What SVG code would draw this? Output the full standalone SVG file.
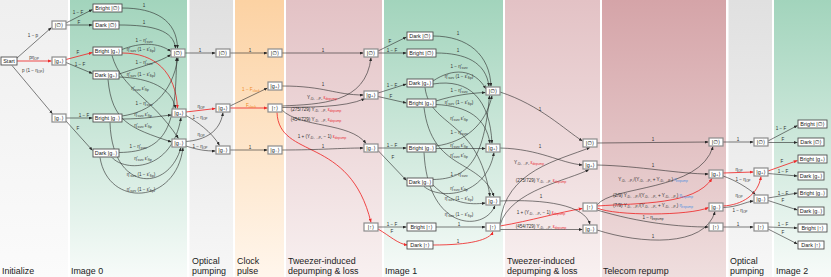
<svg xmlns="http://www.w3.org/2000/svg" width="831" height="277" viewBox="0 0 831 277">
<defs>
<linearGradient id="gInit" x1="0" y1="0" x2="0" y2="1"><stop offset="0" stop-color="#efefef"/><stop offset="1" stop-color="#fbfbfb"/></linearGradient>
<linearGradient id="gGreen" x1="0" y1="0" x2="0" y2="1"><stop offset="0" stop-color="#a2d4bc"/><stop offset="1" stop-color="#f7fbf9"/></linearGradient>
<linearGradient id="gGray" x1="0" y1="0" x2="0" y2="1"><stop offset="0" stop-color="#e0e0e0"/><stop offset="1" stop-color="#f7f7f7"/></linearGradient>
<linearGradient id="gOrange" x1="0" y1="0" x2="0" y2="1"><stop offset="0" stop-color="#fcd2a3"/><stop offset="1" stop-color="#fff6ec"/></linearGradient>
<linearGradient id="gPink" x1="0" y1="0" x2="0" y2="1"><stop offset="0" stop-color="#e3c2c5"/><stop offset="1" stop-color="#f8f0f0"/></linearGradient>
<linearGradient id="gTel" x1="0" y1="0" x2="0" y2="1"><stop offset="0" stop-color="#d5a4a8"/><stop offset="1" stop-color="#efdede"/></linearGradient>
<marker id="ak" viewBox="0 0 10 10" refX="10" refY="5" markerUnits="userSpaceOnUse" markerWidth="3.6" markerHeight="3" orient="auto" preserveAspectRatio="none"><path d="M0,0L10,5L0,10z" fill="#2a2a2a"/></marker>
<marker id="ar" viewBox="0 0 10 10" refX="10" refY="5" markerUnits="userSpaceOnUse" markerWidth="3.8" markerHeight="3.2" orient="auto" preserveAspectRatio="none"><path d="M0,0L10,5L0,10z" fill="#ee2b2b"/></marker>
<style>
.bx{fill:#fff;stroke:#8c8c8c;stroke-width:1.2}
.rb{fill:#fff;stroke:#505050;stroke-width:0.9}
.nt{font-family:"Liberation Sans","DejaVu Sans",sans-serif;font-size:5.5px;fill:#222;text-anchor:middle}
.c{fill:none;stroke:#2a2a2a;stroke-width:0.6;marker-end:url(#ak)}
.cr{fill:none;stroke:#ee2b2b;stroke-width:0.85;marker-end:url(#ar)}
.el{font-family:"Liberation Sans","DejaVu Sans",sans-serif;font-size:4.6px;fill:#333;text-anchor:middle}
.s{font-size:3.2px}
.rd{fill:#e8303a}
.bl{fill:#4a8fe0}
.og{fill:#f08a24}
.sl{font-family:"Liberation Sans","DejaVu Sans",sans-serif;font-size:8.9px;fill:#222}
</style>
</defs>

<g id="bands">
<rect x="0" y="0" width="831" height="277" fill="#fff"/>
<rect x="0" y="0" width="68" height="277" fill="url(#gInit)"/>
<rect x="70" y="0" width="117" height="277" fill="url(#gGreen)"/>
<rect x="189.5" y="0" width="43.5" height="277" fill="url(#gGray)"/>
<rect x="235" y="0" width="49" height="277" fill="url(#gOrange)"/>
<rect x="286" y="0" width="96" height="277" fill="url(#gPink)"/>
<rect x="384" y="0" width="119" height="277" fill="url(#gGreen)"/>
<rect x="505" y="0" width="95" height="277" fill="url(#gPink)"/>
<rect x="602" y="0" width="124" height="277" fill="url(#gTel)"/>
<rect x="728.5" y="0" width="43.5" height="277" fill="url(#gGray)"/>
<rect x="774" y="0" width="57" height="277" fill="url(#gGreen)"/>
</g>

<g id="stage-labels" class="sl">
<text x="2" y="273.8">Initialize</text>
<text x="71" y="273.8">Image 0</text>
<text x="192" y="263.7">Optical</text><text x="192" y="273.8">pumping</text>
<text x="237" y="263.7">Clock</text><text x="237" y="273.8">pulse</text>
<text x="288" y="263.7">Tweezer-induced</text><text x="288" y="273.8">depumping &amp; loss</text>
<text x="385" y="273.8">Image 1</text>
<text x="507" y="263.7">Tweezer-induced</text><text x="507" y="273.8">depumping &amp; loss</text>
<text x="603" y="273.8">Telecom repump</text>
<text x="730" y="263.7">Optical</text><text x="730" y="273.8">pumping</text>
<text x="776" y="273.8">Image 2</text>
</g>

<g id="connectors">
<path class="c" d="M17,58 L51.5,27.5"/>
<path class="cr" d="M17,61 L51.5,61"/>
<path class="c" d="M12,65.5 L52.5,113.8"/>
<path class="c" d="M66,23 L92.5,9.5"/>
<path class="c" d="M66,25 L92.5,25"/>
<path class="cr" d="M66,59.5 L92.5,52.5"/>
<path class="c" d="M66,62.5 L92.5,73.5"/>
<path class="c" d="M66,118 L92.5,118"/>
<path class="c" d="M66,121 L92.5,150.5"/>
<path class="c" d="M122,8 C155,8 177,20 177.5,48.5"/>
<path class="c" d="M119,25 C152,25 174,30 175.5,48.5"/>
<path class="c" d="M122,49.5 C140,42.5 158,42 171,51.5"/>
<path class="cr" d="M122,53 C155,53 176,72 177.5,108.5"/>
<path class="c" d="M112,55.5 C122,90 150,95 178.5,138.5"/>
<path class="c" d="M119,74 C140,67 160,62 171,54.5"/>
<path class="c" d="M119,77 C150,78 172,88 175.5,108.5"/>
<path class="c" d="M108,79.5 C112,122 130,128 171.5,142"/>
<path class="c" d="M122,116 C150,112 172,95 178,57.5"/>
<path class="c" d="M122,119 C145,119 160,116 171.5,115"/>
<path class="c" d="M110,122.5 C112,192 168,193 181,147.5"/>
<path class="c" d="M119,152.5 C168,152 176,125 176.5,57.5"/>
<path class="c" d="M112,157.5 C125,172 172,172 181,117.5"/>
<path class="c" d="M100,157.5 C108,208 176,205 183,147.5"/>
<path class="c" d="M185,53 L215.5,53"/>
<path class="cr" d="M186,112 L215.5,108.5"/>
<path class="c" d="M186,115.5 C196,121 212,132 219.5,145.5"/>
<path class="c" d="M186,141.5 C205,140 220,132 223,112.5"/>
<path class="c" d="M186,146 C198,150 206,151 215.5,151"/>
<path class="c" d="M230,53 L267.5,53"/>
<path class="c" d="M230,106 L267.5,88"/>
<path class="cr" d="M230,108 L267.5,108"/>
<path class="c" d="M230,150 L267.5,150"/>
<path class="c" d="M282,53 L363.5,53"/>
<path class="c" d="M282,86 C325,86 335,95 363.5,95"/>
<path class="c" d="M282,106 C320,104 366,104 371,57.5"/>
<path class="c" d="M282,107.5 C305,107 345,108 365,98.5"/>
<path class="c" d="M282,110 C300,128 350,122 366,143.5"/>
<path class="cr" d="M277,112.5 C279,160 350,135 371,222.5"/>
<path class="c" d="M282,150 C320,150 340,148 363.5,148"/>
<path class="c" d="M378,51 L406.5,37"/>
<path class="c" d="M378,53 L406.5,53"/>
<path class="c" d="M378,93 L406.5,84"/>
<path class="c" d="M378,96.5 L406.5,103"/>
<path class="c" d="M378,148 L406.5,148"/>
<path class="c" d="M378,150.5 L406.5,180.5"/>
<path class="c" d="M378,227 L406.5,227"/>
<path class="cr" d="M378,229 C390,236 398,244 407.5,245"/>
<path class="c" d="M433,36 C468,36 490,55 491,86.5"/>
<path class="c" d="M436,53 C465,53 486,62 489,86.5"/>
<path class="c" d="M433,81 C452,68 474,68 486,89"/>
<path class="c" d="M433,84 C470,78 490,100 492,143.5"/>
<path class="c" d="M425,87.5 C430,128 478,118 490,196.5"/>
<path class="c" d="M436,101 C455,95 472,93 485.5,92.5"/>
<path class="c" d="M436,104.5 C468,106 486,118 490,143.5"/>
<path class="c" d="M424,107.5 C432,172 480,158 494,196.5"/>
<path class="c" d="M436,146 C465,142 486,125 492,95.5"/>
<path class="c" d="M436,148.5 L485.5,148.5"/>
<path class="c" d="M424,152.5 C428,232 485,232 495,205.5"/>
<path class="c" d="M433,179.5 C468,179 484,160 489.5,95.5"/>
<path class="c" d="M424,186.5 C440,200 486,197 494,152.5"/>
<path class="c" d="M433,185 C452,204 470,205 485.5,203"/>
<path class="c" d="M436,227 L485.5,227"/>
<path class="cr" d="M433,245 C470,245 490,240 493,231.5"/>
<path class="c" d="M500,92 C540,105 565,130 582.5,141"/>
<path class="c" d="M500,148 C540,149 560,163 582.5,165"/>
<path class="c" d="M500,223.5 C505,170 560,160 590,147.5"/>
<path class="c" d="M500,225 C510,190 570,180 589,169.5"/>
<path class="cr" d="M500,226 C530,221 560,212 582.5,208.5"/>
<path class="c" d="M500,229.5 L582.5,229.5"/>
<path class="c" d="M500,201 C545,199 585,205 590,224.5"/>
<path class="c" d="M597,143 L708.5,142"/>
<path class="c" d="M597,165 C640,166 680,174 708.5,174"/>
<path class="c" d="M597,205 C612,185 700,192 713,146.5"/>
<path class="cr" d="M597,206 C640,203 695,205 712,178.5"/>
<path class="cr" d="M597,208 C615,216 690,216 708.5,207.5"/>
<path class="c" d="M597,210 C640,223 680,227 708.5,227"/>
<path class="c" d="M597,230 C640,244 705,248 715,211.5"/>
<path class="c" d="M723,142 L753.5,142"/>
<path class="cr" d="M723,173 L753.5,172"/>
<path class="c" d="M723,176 C735,180 748,188 755.5,194.5"/>
<path class="cr" d="M723,206 C742,205 758,195 761,176.5"/>
<path class="c" d="M723,207.5 C738,207 745,202 753.5,201"/>
<path class="c" d="M723,227 L753.5,227"/>
<path class="c" d="M768,141 L797.5,125.5"/>
<path class="c" d="M768,142.5 L797.5,142.5"/>
<path class="cr" d="M768,171 L797.5,160.5"/>
<path class="c" d="M768,173.5 L797.5,176"/>
<path class="c" d="M768,198 L797.5,193"/>
<path class="c" d="M768,200.5 L797.5,210"/>
<path class="c" d="M768,227 L797.5,228"/>
<path class="c" d="M768,229 L797.5,244"/>
</g>

<g id="connector-labels" class="el">
<text x="33" y="37">1 − p</text>
<text x="34" y="58.5">pη<tspan class="s" dy="1">OP</tspan></text>
<text x="33" y="72">p (1 − η<tspan class="s" dy="1">OP</tspan><tspan dy="-1">)</tspan></text>
<text x="78" y="14">1 − F</text>
<text x="79" y="23.5">F</text>
<text x="78" y="53.5">F</text>
<text x="80" y="65.5">1 − F</text>
<text x="84" y="116.5">1 − F</text>
<text x="78" y="130">F</text>
<text x="144" y="6.5">1</text>
<text x="144" y="23.5">1</text>
<text x="144" y="41.5">1 − η′<tspan class="s" dy="1">surv</tspan></text>
<text x="141" y="51">η′<tspan class="s" dy="1">surv</tspan><tspan dy="-1"> (1 − ε′</tspan><tspan class="s" dy="1">flip</tspan><tspan dy="-1">)</tspan></text>
<text x="140" y="90">η′<tspan class="s" dy="1">surv</tspan><tspan dy="-1"> ε′</tspan><tspan class="s" dy="1">flip</tspan></text>
<text x="144" y="63.5">1 − η′<tspan class="s" dy="1">surv</tspan></text>
<text x="141" y="75.5">η′<tspan class="s" dy="1">surv</tspan><tspan dy="-1"> (1 − ε′</tspan><tspan class="s" dy="1">flip</tspan><tspan dy="-1">)</tspan></text>
<text x="143" y="126.5">η′<tspan class="s" dy="1">surv</tspan><tspan dy="-1"> ε′</tspan><tspan class="s" dy="1">flip</tspan></text>
<text x="144" y="105">1 − η′<tspan class="s" dy="1">surv</tspan></text>
<text x="143" y="116">η′<tspan class="s" dy="1">surv</tspan><tspan dy="-1"> ε′</tspan><tspan class="s" dy="1">flip</tspan></text>
<text x="141" y="175.5">η′<tspan class="s" dy="1">surv</tspan><tspan dy="-1"> (1 − ε′</tspan><tspan class="s" dy="1">flip</tspan><tspan dy="-1">)</tspan></text>
<text x="138" y="147.5">1 − η′<tspan class="s" dy="1">surv</tspan></text>
<text x="143" y="159.5">η′<tspan class="s" dy="1">surv</tspan><tspan dy="-1"> ε′</tspan><tspan class="s" dy="1">flip</tspan></text>
<text x="141" y="191">η′<tspan class="s" dy="1">surv</tspan><tspan dy="-1"> (1 − ε′</tspan><tspan class="s" dy="1">flip</tspan><tspan dy="-1">)</tspan></text>
<text x="200" y="51.5">1</text>
<text x="201" y="107.5">η<tspan class="s" dy="1">OP</tspan></text>
<text x="200" y="119">1 − η<tspan class="s" dy="1">OP</tspan></text>
<text x="201" y="135.5">η<tspan class="s" dy="1">OP</tspan></text>
<text x="200" y="148">1 − η<tspan class="s" dy="1">OP</tspan></text>
<text x="250" y="51.5">1</text>
<text x="251" y="90.5" class="og">1 − F<tspan class="s" dy="1">clock</tspan></text>
<text x="251" y="106.5" class="og">F<tspan class="s" dy="1">clock</tspan></text>
<text x="250" y="148.5">1</text>
<text x="323" y="51.5">1</text>
<text x="323" y="85.5">1</text>
<text x="322" y="98.5">Y<tspan class="s" dy="1">³D₁→³P₂</tspan><tspan class="rd" dy="-1"> ε</tspan><tspan class="s rd" dy="1">depump</tspan></text>
<text x="316" y="111">(275/729) Y<tspan class="s" dy="1">³D₁→³P₁</tspan><tspan class="rd" dy="-1"> ε</tspan><tspan class="s rd" dy="1">depump</tspan></text>
<text x="316" y="120.5">(454/729) Y<tspan class="s" dy="1">³D₁→³P₁</tspan><tspan class="rd" dy="-1"> ε</tspan><tspan class="s rd" dy="1">depump</tspan></text>
<text x="322" y="137.5">1 + (Y<tspan class="s" dy="1">³D₁→³P₀</tspan><tspan dy="-1"> − 1) </tspan><tspan class="rd">ε</tspan><tspan class="s rd" dy="1">depump</tspan></text>
<text x="323" y="148">1</text>
<text x="390" y="42.5">F</text>
<text x="392" y="51.5">1 − F</text>
<text x="392" y="86.5">1 − F</text>
<text x="391" y="97.5">F</text>
<text x="392" y="146.5">1 − F</text>
<text x="393" y="158.5">F</text>
<text x="392" y="225.5">1 − F</text>
<text x="392" y="233">F</text>
<text x="458" y="35">1</text>
<text x="458" y="52">1</text>
<text x="459" y="67.5">1 − η′<tspan class="s" dy="1">surv</tspan></text>
<text x="459" y="77.5">η′<tspan class="s" dy="1">surv</tspan><tspan dy="-1"> (1 − ε′</tspan><tspan class="s" dy="1">flip</tspan><tspan dy="-1">)</tspan></text>
<text x="459" y="119.5">η′<tspan class="s" dy="1">surv</tspan><tspan dy="-1"> ε′</tspan><tspan class="s" dy="1">flip</tspan></text>
<text x="459" y="92">1 − η′<tspan class="s" dy="1">surv</tspan></text>
<text x="459" y="103.5">η′<tspan class="s" dy="1">surv</tspan><tspan dy="-1"> (1 − ε′</tspan><tspan class="s" dy="1">flip</tspan><tspan dy="-1">)</tspan></text>
<text x="459" y="157">η′<tspan class="s" dy="1">surv</tspan><tspan dy="-1"> ε′</tspan><tspan class="s" dy="1">flip</tspan></text>
<text x="459" y="133.5">1 − η′<tspan class="s" dy="1">surv</tspan></text>
<text x="459" y="146.5">η′<tspan class="s" dy="1">surv</tspan><tspan dy="-1"> ε′</tspan><tspan class="s" dy="1">flip</tspan></text>
<text x="459" y="216">η′<tspan class="s" dy="1">surv</tspan><tspan dy="-1"> (1 − ε′</tspan><tspan class="s" dy="1">flip</tspan><tspan dy="-1">)</tspan></text>
<text x="459" y="176">1 − η′<tspan class="s" dy="1">surv</tspan></text>
<text x="459" y="189.5">η′<tspan class="s" dy="1">surv</tspan><tspan dy="-1"> ε′</tspan><tspan class="s" dy="1">flip</tspan></text>
<text x="459" y="199.5">η′<tspan class="s" dy="1">surv</tspan><tspan dy="-1"> (1 − ε′</tspan><tspan class="s" dy="1">flip</tspan><tspan dy="-1">)</tspan></text>
<text x="459" y="225.5">1</text>
<text x="458" y="242.5">1</text>
<text x="540" y="111">1</text>
<text x="540" y="148">1</text>
<text x="529" y="163.5">Y<tspan class="s" dy="1">³D₁→³P₂</tspan><tspan class="rd" dy="-1"> ε</tspan><tspan class="s rd" dy="1">depump</tspan></text>
<text x="541" y="181.5">(275/729) Y<tspan class="s" dy="1">³D₁→³P₁</tspan><tspan class="rd" dy="-1"> ε</tspan><tspan class="s rd" dy="1">depump</tspan></text>
<text x="541" y="197.5">1</text>
<text x="541" y="213.5">1 + (Y<tspan class="s" dy="1">³D₁→³P₀</tspan><tspan dy="-1"> − 1) </tspan><tspan class="rd">ε</tspan><tspan class="s rd" dy="1">depump</tspan></text>
<text x="541" y="227.5">(454/729) Y<tspan class="s" dy="1">³D₁→³P₁</tspan><tspan class="rd" dy="-1"> ε</tspan><tspan class="s rd" dy="1">depump</tspan></text>
<text x="653" y="140.5">1</text>
<text x="653" y="166.5">1</text>
<text x="653" y="181">Y<tspan class="s" dy="1">³D₁→³P₂</tspan><tspan dy="-1">/(Y</tspan><tspan class="s" dy="1">³D₁→³P₂</tspan><tspan dy="-1"> + Y</tspan><tspan class="s" dy="1">³D₁→³P₁</tspan><tspan dy="-1">) </tspan><tspan class="bl">η</tspan><tspan class="s bl" dy="1">repump</tspan></text>
<text x="653" y="197">(2/9) Y<tspan class="s" dy="1">³D₁→³P₁</tspan><tspan dy="-1">/(Y</tspan><tspan class="s" dy="1">³D₁→³P₂</tspan><tspan dy="-1"> + Y</tspan><tspan class="s" dy="1">³D₁→³P₁</tspan><tspan dy="-1">) </tspan><tspan class="bl">η</tspan><tspan class="s bl" dy="1">repump</tspan></text>
<text x="653" y="206.5">(7/9) Y<tspan class="s" dy="1">³D₁→³P₁</tspan><tspan dy="-1">/(Y</tspan><tspan class="s" dy="1">³D₁→³P₂</tspan><tspan dy="-1"> + Y</tspan><tspan class="s" dy="1">³D₁→³P₁</tspan><tspan dy="-1">) </tspan><tspan class="bl">η</tspan><tspan class="s bl" dy="1">repump</tspan></text>
<text x="653" y="218.5">1 − η<tspan class="s" dy="1">repump</tspan></text>
<text x="653" y="237.5">1</text>
<text x="738" y="140.5">1</text>
<text x="739" y="170.5">η<tspan class="s" dy="1">OP</tspan></text>
<text x="743" y="180.5">1 − η<tspan class="s" dy="1">OP</tspan></text>
<text x="739" y="197">η<tspan class="s" dy="1">OP</tspan></text>
<text x="740" y="211.5">1 − η<tspan class="s" dy="1">OP</tspan></text>
<text x="738" y="225.5">1</text>
<text x="781" y="130">1 − F</text>
<text x="783" y="141">F</text>
<text x="782" y="163">F</text>
<text x="783" y="172.5">1 − F</text>
<text x="783" y="194.5">1 − F</text>
<text x="783" y="202">F</text>
<text x="783" y="225.5">1 − F</text>
<text x="783" y="234">F</text>
</g>

<g id="start"><rect class="rb" x="1" y="57" width="16" height="8"/><text class="nt" x="9" y="63">Start</text></g>
<g id="init-empty"><rect class="bx" x="52" y="21" width="14" height="8"/><text class="nt" x="59" y="27">|∅⟩</text></g>
<g id="init-gp"><rect class="bx" x="52" y="57" width="14" height="8"/><text class="nt" x="59" y="63">|g₊⟩</text></g>
<g id="init-gm"><rect class="bx" x="52" y="114" width="14" height="8"/><text class="nt" x="59" y="120">|g₋⟩</text></g>

<g id="im0-bright-empty"><rect class="rb" x="93" y="4" width="29" height="8"/><text class="nt" x="107.5" y="10">Bright |∅⟩</text></g>
<g id="im0-dark-empty"><rect class="rb" x="93" y="21" width="26" height="8"/><text class="nt" x="106" y="27">Dark |∅⟩</text></g>
<g id="im0-bright-gp"><rect class="rb" x="93" y="47" width="29" height="8"/><text class="nt" x="107.5" y="53">Bright |g₊⟩</text></g>
<g id="im0-dark-gp"><rect class="rb" x="93" y="71" width="26" height="8"/><text class="nt" x="106" y="77">Dark |g₊⟩</text></g>
<g id="im0-bright-gm"><rect class="rb" x="93" y="114" width="29" height="8"/><text class="nt" x="107.5" y="120">Bright |g₋⟩</text></g>
<g id="im0-dark-gm"><rect class="rb" x="93" y="149" width="26" height="8"/><text class="nt" x="106" y="155">Dark |g₋⟩</text></g>

<g id="im0-out-empty"><rect class="bx" x="171" y="49" width="14" height="8"/><text class="nt" x="178" y="55">|∅⟩</text></g>
<g id="im0-out-gp"><rect class="bx" x="172" y="109" width="14" height="8"/><text class="nt" x="179" y="115">|g₊⟩</text></g>
<g id="im0-out-gm"><rect class="bx" x="172" y="139" width="14" height="8"/><text class="nt" x="179" y="145">|g₋⟩</text></g>

<g id="op1-empty"><rect class="bx" x="216" y="49" width="14" height="8"/><text class="nt" x="223" y="55">|∅⟩</text></g>
<g id="op1-gp"><rect class="bx" x="216" y="104" width="14" height="8"/><text class="nt" x="223" y="110">|g₊⟩</text></g>
<g id="op1-gm"><rect class="bx" x="216" y="146" width="14" height="8"/><text class="nt" x="223" y="152">|g₋⟩</text></g>

<g id="clk-empty"><rect class="bx" x="268" y="49" width="14" height="8"/><text class="nt" x="275" y="55">|∅⟩</text></g>
<g id="clk-gp"><rect class="bx" x="268" y="82" width="14" height="8"/><text class="nt" x="275" y="88">|g₊⟩</text></g>
<g id="clk-up"><rect class="bx" x="268" y="104" width="14" height="8"/><text class="nt" x="275" y="110">|↑⟩</text></g>
<g id="clk-gm"><rect class="bx" x="268" y="146" width="14" height="8"/><text class="nt" x="275" y="152">|g₋⟩</text></g>

<g id="tw1-empty"><rect class="bx" x="364" y="49" width="14" height="8"/><text class="nt" x="371" y="55">|∅⟩</text></g>
<g id="tw1-gp"><rect class="bx" x="364" y="91" width="14" height="8"/><text class="nt" x="371" y="97">|g₊⟩</text></g>
<g id="tw1-gm"><rect class="bx" x="364" y="144" width="14" height="8"/><text class="nt" x="371" y="150">|g₋⟩</text></g>
<g id="tw1-up"><rect class="bx" x="364" y="223" width="14" height="8"/><text class="nt" x="371" y="229">|↑⟩</text></g>

<g id="im1-dark-empty"><rect class="rb" x="407" y="32" width="26" height="8"/><text class="nt" x="420" y="38">Dark |∅⟩</text></g>
<g id="im1-bright-empty"><rect class="rb" x="407" y="49" width="29" height="8"/><text class="nt" x="421.5" y="55">Bright |∅⟩</text></g>
<g id="im1-dark-gp"><rect class="rb" x="407" y="79" width="26" height="8"/><text class="nt" x="420" y="85">Dark |g₊⟩</text></g>
<g id="im1-bright-gp"><rect class="rb" x="407" y="99" width="29" height="8"/><text class="nt" x="421.5" y="105">Bright |g₊⟩</text></g>
<g id="im1-bright-gm"><rect class="rb" x="407" y="144" width="29" height="8"/><text class="nt" x="421.5" y="150">Bright |g₋⟩</text></g>
<g id="im1-dark-gm"><rect class="rb" x="407" y="178" width="26" height="8"/><text class="nt" x="420" y="184">Dark |g₋⟩</text></g>
<g id="im1-bright-up"><rect class="rb" x="407" y="223" width="29" height="8"/><text class="nt" x="421.5" y="229">Bright |↑⟩</text></g>
<g id="im1-dark-up"><rect class="rb" x="407" y="241" width="26" height="8"/><text class="nt" x="420" y="247">Dark |↑⟩</text></g>

<g id="im1-out-empty"><rect class="bx" x="486" y="87" width="14" height="8"/><text class="nt" x="493" y="93">|∅⟩</text></g>
<g id="im1-out-gp"><rect class="bx" x="486" y="144" width="14" height="8"/><text class="nt" x="493" y="150">|g₊⟩</text></g>
<g id="im1-out-gm"><rect class="bx" x="486" y="197" width="14" height="8"/><text class="nt" x="493" y="203">|g₋⟩</text></g>
<g id="im1-out-up"><rect class="bx" x="486" y="223" width="14" height="8"/><text class="nt" x="493" y="229">|↑⟩</text></g>

<g id="tw2-empty"><rect class="bx" x="583" y="139" width="14" height="8"/><text class="nt" x="590" y="145">|∅⟩</text></g>
<g id="tw2-gp"><rect class="bx" x="583" y="161" width="14" height="8"/><text class="nt" x="590" y="167">|g₊⟩</text></g>
<g id="tw2-up"><rect class="bx" x="583" y="203" width="14" height="8"/><text class="nt" x="590" y="209">|↑⟩</text></g>
<g id="tw2-gm"><rect class="bx" x="583" y="225" width="14" height="8"/><text class="nt" x="590" y="231">|g₋⟩</text></g>

<g id="tel-empty"><rect class="bx" x="709" y="138" width="14" height="8"/><text class="nt" x="716" y="144">|∅⟩</text></g>
<g id="tel-gp"><rect class="bx" x="709" y="170" width="14" height="8"/><text class="nt" x="716" y="176">|g₊⟩</text></g>
<g id="tel-gm"><rect class="bx" x="709" y="203" width="14" height="8"/><text class="nt" x="716" y="209">|g₋⟩</text></g>
<g id="tel-up"><rect class="bx" x="709" y="223" width="14" height="8"/><text class="nt" x="716" y="229">|↑⟩</text></g>

<g id="op2-empty"><rect class="bx" x="754" y="138" width="14" height="8"/><text class="nt" x="761" y="144">|∅⟩</text></g>
<g id="op2-gp"><rect class="bx" x="754" y="168" width="14" height="8"/><text class="nt" x="761" y="174">|g₊⟩</text></g>
<g id="op2-gm"><rect class="bx" x="754" y="195" width="14" height="8"/><text class="nt" x="761" y="201">|g₋⟩</text></g>
<g id="op2-up"><rect class="bx" x="754" y="223" width="14" height="8"/><text class="nt" x="761" y="229">|↑⟩</text></g>

<g id="im2-bright-empty"><rect class="rb" x="798" y="120" width="29" height="8"/><text class="nt" x="812.5" y="126">Bright |∅⟩</text></g>
<g id="im2-dark-empty"><rect class="rb" x="798" y="138" width="26" height="8"/><text class="nt" x="811" y="144">Dark |∅⟩</text></g>
<g id="im2-bright-gp"><rect class="rb" x="798" y="155" width="29" height="8"/><text class="nt" x="812.5" y="161">Bright |g₊⟩</text></g>
<g id="im2-dark-gp"><rect class="rb" x="798" y="172" width="26" height="8"/><text class="nt" x="811" y="178">Dark |g₊⟩</text></g>
<g id="im2-bright-gm"><rect class="rb" x="798" y="189" width="29" height="8"/><text class="nt" x="812.5" y="195">Bright |g₋⟩</text></g>
<g id="im2-dark-gm"><rect class="rb" x="798" y="207" width="26" height="8"/><text class="nt" x="811" y="213">Dark |g₋⟩</text></g>
<g id="im2-bright-up"><rect class="rb" x="798" y="224" width="29" height="8"/><text class="nt" x="812.5" y="230">Bright |↑⟩</text></g>
<g id="im2-dark-up"><rect class="rb" x="798" y="241" width="26" height="8"/><text class="nt" x="811" y="247">Dark |↑⟩</text></g>
</svg>
